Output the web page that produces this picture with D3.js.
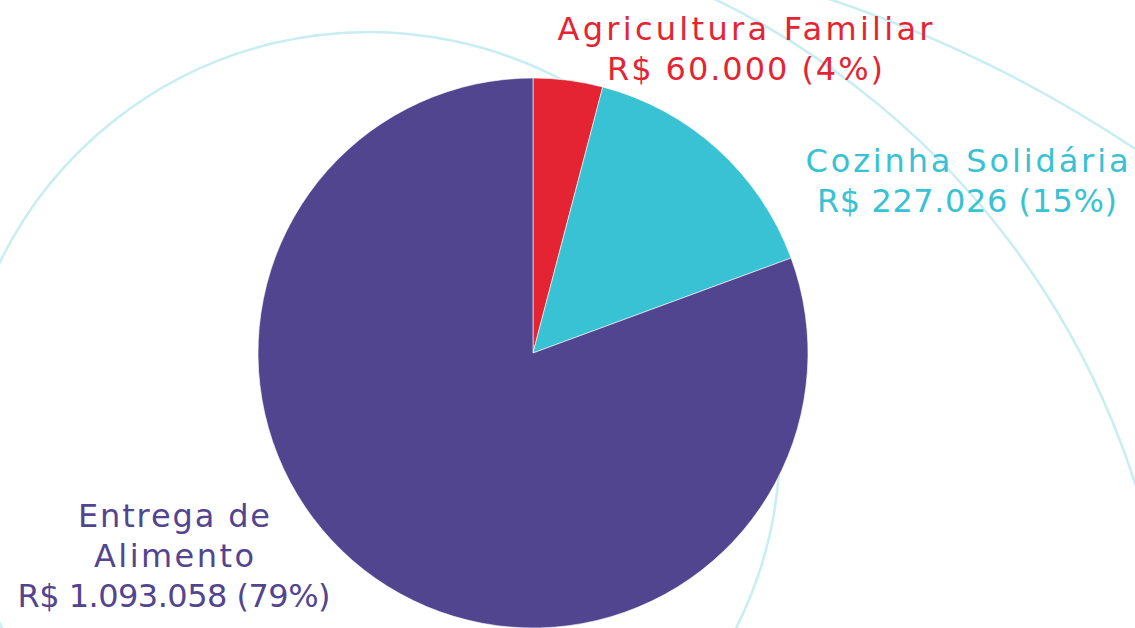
<!DOCTYPE html>
<html>
<head>
<meta charset="utf-8">
<script src="https://cdn.jsdelivr.net/npm/d3@7"></script>
<style>
  html, body { margin: 0; padding: 0; background: #fff; }
  svg { display: block; }
</style>
</head>
<body>
<div id="chart"></div>
<script>
// Data
const categories = ["Agricultura Familiar", "Cozinha Solidária", "Entrega de Alimento"];
const amounts = ["R$ 60.000", "R$ 227.026", "R$ 1.093.058"];
const percents = [4, 15, 79];
const colors = ["#e52433", "#38c2d3", "#52458f"];

// Label layout: one line array per slice (center x, first baseline, widths)
const labelLayout = [
  { x: 745, y: 40, lines: [categories[0], `${amounts[0]} (${percents[0]}%)`], widths: [375, 276] },
  { x: 967, y: 172, lines: [categories[1], `${amounts[1]} (${percents[1]}%)`], widths: [323, 300] },
  { x: 174, y: 527, lines: ["Entrega de", "Alimento", `${amounts[2]} (${percents[2]}%)`], widths: [192, 160, 313] },
];

// Decorative background arcs (angles in degrees, clockwise from 12 o'clock)
const rings = [
  { cx: 369, cy: 443, r: 411, from: -120, to: 200 },
  { cx: 360, cy: 732, r: 814, from: 15, to: 120 },
  { cx: 413, cy: 1236, r: 1305, from: 15, to: 60 },
];

const width = 1135;
const height = 628;
const center = { x: 533, y: 353 };
const radius = 275;
const lineHeight = 40;

const svg = d3
  .select("#chart")
  .append("svg")
  .attr("width", width)
  .attr("height", height)
  .attr("viewBox", `0 0 ${width} ${height}`);

const ringArc = (d) => {
  const p = d3.path();
  const a0 = ((d.from - 90) * Math.PI) / 180;
  const a1 = ((d.to - 90) * Math.PI) / 180;
  p.moveTo(d.cx + d.r * Math.cos(a0), d.cy + d.r * Math.sin(a0));
  p.arc(d.cx, d.cy, d.r, a0, a1);
  return p.toString();
};

svg
  .append("g")
  .selectAll("path")
  .data(rings)
  .join("path")
  .attr("d", ringArc)
  .attr("fill", "none")
  .attr("stroke", "#c8edf2")
  .attr("stroke-width", 2.5);

const pie = d3.pie().sort(null).value((d) => d);
const arc = d3.arc().innerRadius(0).outerRadius(radius);

svg
  .append("g")
  .attr("transform", `translate(${center.x},${center.y})`)
  .selectAll("path")
  .data(pie(percents))
  .join("path")
  .attr("d", arc)
  .attr("fill", (d, i) => colors[i])
  .attr("stroke", "#ffffff")
  .attr("stroke-width", 0.6);

const labels = svg
  .append("g")
  .selectAll("text")
  .data(labelLayout)
  .join("text")
  .attr("text-anchor", "middle")
  .attr("font-family", "'DejaVu Sans', sans-serif")
  .attr("font-size", "32px")
  .attr("fill", (d, i) => colors[i]);

labels
  .selectAll("tspan")
  .data((d) => d.lines.map((t, j) => ({ t, j, d })))
  .join("tspan")
  .attr("x", (s) => s.d.x)
  .attr("y", (s) => s.d.y + s.j * lineHeight)
  .attr("textLength", (s) => s.d.widths[s.j])
  .attr("lengthAdjust", "spacing")
  .text((s) => s.t);
</script>
</body>
</html>
